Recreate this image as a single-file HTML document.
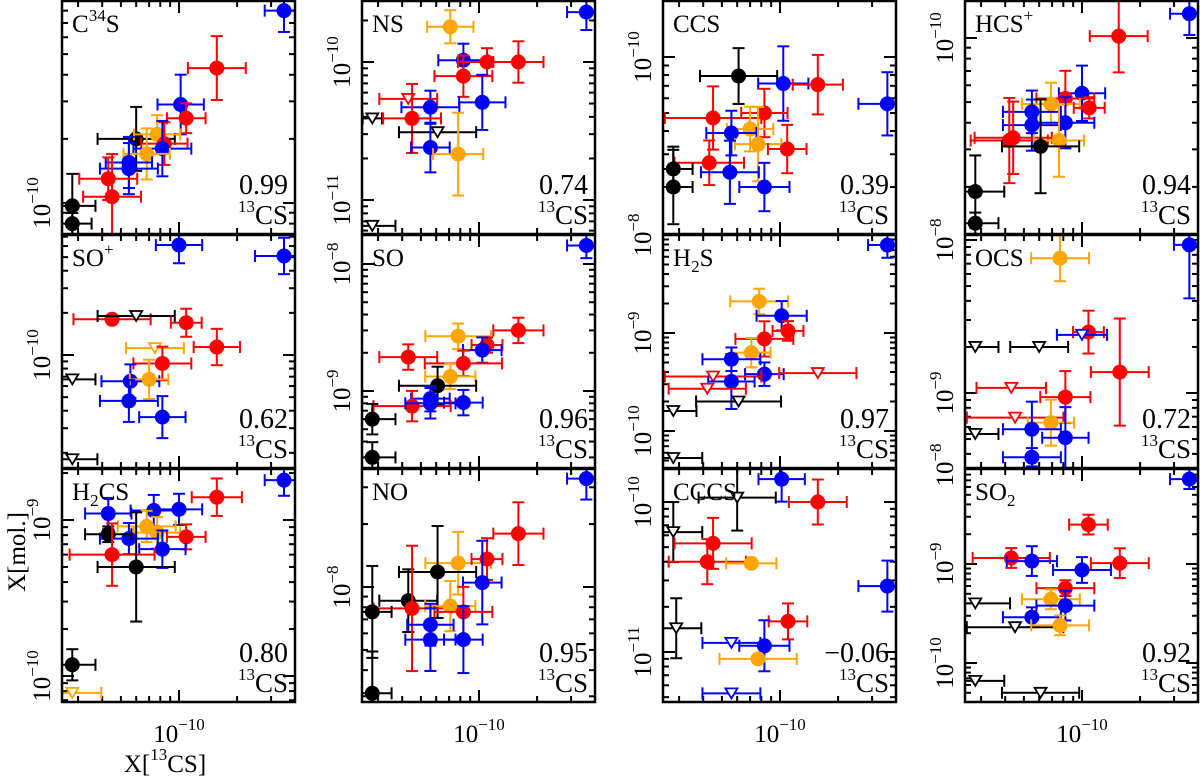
<!DOCTYPE html>
<html><head><meta charset="utf-8"><style>
html,body{margin:0;padding:0;background:#fff;}
svg{display:block;font-family:"Liberation Serif",serif;}
</style></head><body>
<svg id="chart" width="1200" height="778" viewBox="0 0 1200 778" xmlns="http://www.w3.org/2000/svg"></svg>
<script>
// ---- data (X = X[13CS], Y = X[mol.], C = kind, EX/EY = errors in dex) ----
const xC34S=[3.5e-10,1.57e-10,1.02e-10,1.09e-10,6.0e-11,7.7e-11,8.4e-11,8.2e-11,6.8e-11,5.5e-11,5.5e-11,4.3e-11,4.5e-11,2.8e-11,2.8e-11];
const yC34S=[8e-10,4.3e-10,2.9e-10,2.5e-10,2.0e-10,2.1e-10,1.9e-10,1.8e-10,1.7e-10,1.55e-10,1.45e-10,1.3e-10,1.07e-10,9.7e-11,8e-11];
const cC34S=['b','r','b','r','k','o','r','b','o','b','b','r','r','k','k'];
const exC34S=[.1,.15,.12,.1,.2,.12,.12,.15,.12,.12,.15,.15,.15,.12,.1];
const eyC34S=[.1,.15,.14,.07,.15,.09,.1,.13,.12,.12,.12,.1,.2,.15,.05];

const xNS=[3.6e-10,7.1e-11,8.3e-11,1.1e-10,1.6e-10,8.3e-11,1.04e-10,4.3e-11,5.6e-11,2.8e-11,4.5e-11,6.1e-11,5.6e-11,7.8e-11,2.8e-11];
const yNS=[2.3e-10,1.8e-10,1.03e-10,1e-10,1e-10,7.9e-11,5.1e-11,5.4e-11,4.7e-11,3.9e-11,3.9e-11,3.1e-11,2.4e-11,2.15e-11,6.5e-12];
const cNS=['b','o','b','r','r','r','b','rt','b','kt','r','kt','b','o','kt'];
const exNS=[.1,.12,.13,.15,.13,.15,.12,.15,.15,.05,.15,.2,.1,.13,.12];
const eyNS=[.13,.12,.12,.1,.15,.15,.2,0,.12,0,.25,0,.18,.3,0];

const xCCS=[6.1e-11,1.04e-10,1.57e-10,3.6e-10,4.5e-11,8.3e-11,7.0e-11,5.6e-11,7.7e-11,1.09e-10,4.3e-11,2.8e-11,5.5e-11,2.8e-11,8.3e-11];
const yCCS=[7.9e-11,7.2e-11,7.1e-11,5.6e-11,4.7e-11,5.0e-11,4.1e-11,3.9e-11,3.4e-11,3.2e-11,2.7e-11,2.5e-11,2.4e-11,2.0e-11,2.0e-11];
const cCCS=['k','b','r','b','r','r','o','b','o','r','r','k','b','k','b'];
const exCCS=[.2,.13,.13,.15,.25,.12,.12,.13,.12,.1,.18,.1,.15,.1,.13];
const eyCCS=[.15,.2,.16,.17,.17,.13,.12,.12,.2,.13,.12,.12,.17,.2,.13];

const xHCS=[3.6e-10,1.55e-10,1.0e-10,8.2e-11,6.9e-11,1.09e-10,5.5e-11,8.2e-11,5.5e-11,4.4e-11,4.2e-11,7.6e-11,6.1e-11,2.8e-11,2.8e-11];
const yHCS=[1.3e-10,1.02e-10,5.5e-11,5.2e-11,4.9e-11,4.7e-11,4.5e-11,4.0e-11,3.9e-11,3.4e-11,3.3e-11,3.3e-11,3.1e-11,1.9e-11,1.35e-11];
const cHCS=['b','r','b','r','o','r','b','b','b','r','r','o','k','k','k'];
const exHCS=[.1,.15,.12,.15,.15,.08,.15,.15,.15,.2,.2,.13,.2,.15,.12];
const eyHCS=[.1,.17,.13,.13,.1,.05,.1,.12,.12,.17,.2,.17,.22,.17,.05];

const xSOp=[1.0e-10,3.5e-10,4.5e-11,6.0e-11,1.09e-10,1.57e-10,7.5e-11,8.2e-11,2.8e-11,5.6e-11,7.0e-11,5.5e-11,8.2e-11,2.8e-11];
const ySOp=[6.1e-10,5.1e-10,1.8e-10,1.9e-10,1.7e-10,1.14e-10,1.12e-10,8.7e-11,6.7e-11,6.5e-11,6.7e-11,4.7e-11,3.6e-11,1.8e-11];
const cSOp=['b','b','r','kt','r','r','ot','r','kt','b','o','b','b','kt'];
const exSOp=[.12,.15,.2,.2,.08,.12,.15,.15,.12,.15,.1,.15,.12,.13];
const eySOp=[.13,.13,.01,0,.1,.13,0,.12,0,.12,.14,.15,.15,0];

const xSO=[3.6e-10,1.6e-10,7.8e-11,1.1e-10,1.04e-10,4.3e-11,8.3e-11,7.1e-11,6.1e-11,5.6e-11,8.3e-11,4.5e-11,5.6e-11,2.8e-11,2.8e-11];
const ySO=[1.4e-8,3.0e-9,2.7e-9,2.3e-9,2.1e-9,1.85e-9,1.65e-9,1.3e-9,1.1e-9,8.7e-10,8.1e-10,7.6e-10,8e-10,6.0e-10,3.0e-10];
const cSO=['b','r','o','r','b','r','r','o','k','b','b','r','b','k','k'];
const exSO=[.1,.13,.17,.08,.1,.15,.2,.13,.2,.1,.1,.2,.13,.12,.12];
const eySO=[.1,.1,.1,.06,.1,.1,.1,.1,.15,.1,.1,.12,.12,.12,.12];

const xH2S=[3.6e-10,7.8e-11,1.02e-10,1.1e-10,8.3e-11,7.1e-11,5.6e-11,8.3e-11,1.57e-10,4.5e-11,5.6e-11,4.2e-11,6.1e-11,2.8e-11,2.8e-11];
const yH2S=[7.9e-9,2.1e-9,1.5e-9,1.05e-9,8.7e-10,6.3e-10,5.4e-10,3.8e-10,3.9e-10,3.6e-10,3.2e-10,2.7e-10,2.0e-10,1.6e-10,5.3e-11];
const cH2S=['b','o','b','r','r','o','b','b','rt','rt','b','rt','kt','kt','kt'];
const exH2S=[.1,.15,.13,.08,.15,.1,.15,.1,.2,.25,.12,.2,.22,.12,.15];
const eyH2S=[.13,.13,.15,.1,.18,.15,.12,.12,0,0,.28,0,0,0,0];

const xOCS=[3.6e-10,7.7e-11,1.08e-10,1.0e-10,2.8e-11,6.0e-11,1.57e-10,4.3e-11,8.2e-11,4.5e-11,6.9e-11,5.5e-11,2.8e-11,8.2e-11,5.5e-11];
const yOCS=[9.3e-9,7.6e-9,2.5e-9,2.4e-9,2.0e-9,2.0e-9,1.37e-9,1.08e-9,9.4e-10,6.9e-10,6.4e-10,5.8e-10,5.4e-10,5.1e-10,3.8e-10];
const cOCS=['b','o','r','bt','kt','kt','r','rt','r','rt','o','b','kt','b','b'];
const exOCS=[.08,.15,.08,.13,.12,.15,.15,.18,.13,.25,.12,.15,.12,.12,.15];
const eyOCS=[.35,.15,.14,0,0,0,.35,0,.17,0,.15,.18,0,.2,.06];

const xH2CS=[3.5e-10,1.57e-10,1.0e-10,7.4e-11,4.3e-11,6.8e-11,7.7e-11,1.09e-10,5.5e-11,4.3e-11,8.2e-11,4.5e-11,6.0e-11,2.8e-11,2.8e-11];
const yH2CS=[1.8e-9,1.4e-9,1.17e-9,1.15e-9,1.1e-9,9.1e-10,8.3e-10,7.8e-10,7.6e-10,8.1e-10,6.5e-10,6.0e-10,5.0e-10,1.18e-10,7.8e-11];
const cH2CS=['b','r','b','b','b','o','o','r','b','k','b','r','k','k','ot'];
const exH2CS=[.1,.13,.12,.12,.12,.15,.12,.1,.15,.12,.12,.22,.2,.12,.15];
const eyH2CS=[.1,.12,.1,.1,.1,.1,.1,.08,.1,.05,.12,.2,.35,.1,0];

const xNO=[3.6e-10,1.6e-10,7.8e-11,1.1e-10,6.1e-11,1.04e-10,4.3e-11,4.5e-11,2.8e-11,7.1e-11,8.3e-11,5.6e-11,5.6e-11,8.3e-11,2.8e-11];
const yNO=[3.3e-8,1.8e-8,1.3e-8,1.36e-8,1.18e-8,1.05e-8,8.6e-9,7.9e-9,7.6e-9,8.1e-9,7.6e-9,6.6e-9,5.6e-9,5.6e-9,3.1e-9];
const cNO=['b','r','o','r','k','b','k','r','k','o','r','b','b','b','k'];
const exNO=[.1,.13,.17,.08,.2,.1,.15,.2,.1,.13,.15,.12,.13,.1,.1];
const eyNO=[.1,.15,.15,.1,.22,.2,.15,.3,.22,.12,.12,.1,.15,.16,.2];

const xCCCS=[1.02e-10,6e-11,1.57e-10,2.8e-11,4.5e-11,4.2e-11,7.1e-11,3.6e-10,1.1e-10,2.9e-11,5.6e-11,8.3e-11,7.7e-11,5.6e-11];
const yCCCS=[1.42e-10,1.07e-10,1.0e-10,6.3e-11,5.3e-11,4.0e-11,3.9e-11,2.75e-11,1.6e-11,1.44e-11,1.15e-11,1.1e-11,9e-12,5.3e-12];
const cCCCS=['b','kt','r','kt','r','r','o','b','r','kt','bt','b','o','bt'];
const exCCCS=[.12,.2,.15,.15,.2,.2,.13,.15,.1,.13,.15,.13,.2,.15];
const eyCCCS=[.15,.22,.15,.2,.17,.15,0,.17,.12,.2,0,.17,0,0];

const xSO2=[3.6e-10,1.08e-10,4.3e-11,5.5e-11,1.57e-10,1.0e-10,8.2e-11,6.9e-11,8.2e-11,2.8e-11,5.5e-11,4.5e-11,7.7e-11,2.8e-11,6.1e-11];
const ySO2=[7.2e-9,2.5e-9,1.15e-9,1.07e-9,1.02e-9,8.7e-10,5.7e-10,4.4e-10,3.8e-10,4.0e-10,2.9e-10,2.3e-10,2.4e-10,6.6e-11,5.0e-11];
const cSO2=['b','r','r','b','r','b','r','o','b','kt','b','kt','o','kt','kt'];
const exSO2=[.1,.1,.2,.13,.15,.15,.15,.15,.15,.18,.15,.25,.15,.15,.2];
const eySO2=[.1,.1,.1,.15,.15,.13,.08,.1,.15,0,.1,0,.1,0,0];

const corrValues=['0.99','0.74','0.39','0.94','0.62','0.96','0.97','0.72','0.80','0.95','\u22120.06','0.92'];
const xTickLabel='10';
const xTickExp='\u221210';

// ---- layout ----
const NS_='http://www.w3.org/2000/svg';
const svg=document.getElementById('chart');
const colL=[62,362,663,965], rowT=[1,235,469], PW=233, PH=233;
const XD=193, XREF=117;
const panels=[
 {name:'c34s',label:[['C'],['34','sup'],['S']],xs:xC34S,ys:yC34S,cs:cC34S,ex:exC34S,ey:eyC34S,yref:203,lref:-10,D:213},
 {name:'ns',label:[['NS']],xs:xNS,ys:yNS,cs:cNS,ex:exNS,ey:eyNS,yref:62,lref:-10,D:138},
 {name:'ccs',label:[['CCS']],xs:xCCS,ys:yCCS,cs:cCCS,ex:exCCS,ey:eyCCS,yref:57,lref:-10,D:186},
 {name:'hcs-plus',label:[['HCS'],['+','sup']],xs:xHCS,ys:yHCS,cs:cHCS,ex:exHCS,ey:eyHCS,yref:38,lref:-10,D:213},
 {name:'so-plus',label:[['SO'],['+','sup']],xs:xSOp,ys:ySOp,cs:cSOp,ex:exSOp,ey:eySOp,yref:355,lref:-10,D:140},
 {name:'so',label:[['SO']],xs:xSO,ys:ySO,cs:cSO,ex:exSO,ey:eySO,yref:391,lref:-9,D:127},
 {name:'h2s',label:[['H'],['2','sub'],['S']],xs:xH2S,ys:yH2S,cs:cH2S,ex:exH2S,ey:eyH2S,yref:333,lref:-9,D:98},
 {name:'ocs',label:[['OCS']],xs:xOCS,ys:yOCS,cs:cOCS,ex:exOCS,ey:eyOCS,yref:393,lref:-9,D:153},
 {name:'h2cs',label:[['H'],['2','sub'],['CS']],xs:xH2CS,ys:yH2CS,cs:cH2CS,ex:exH2CS,ey:eyH2CS,yref:520,lref:-9,D:156},
 {name:'no',label:[['NO']],xs:xNO,ys:yNO,cs:cNO,ex:exNO,ey:eyNO,yref:587,lref:-8,D:209},
 {name:'cccs',label:[['CCCS']],xs:xCCCS,ys:yCCCS,cs:cCCCS,ex:exCCCS,ey:eyCCCS,yref:502,lref:-10,D:150},
 {name:'so2',label:[['SO'],['2','sub']],xs:xSO2,ys:ySO2,cs:cSO2,ex:exSO2,ey:eySO2,yref:564,lref:-9,D:99}
];
const COL={r:'#ff0000',b:'#0000ff',o:'#ffa500',k:'#000000'};

function mk(tag,attrs,parent){const e=document.createElementNS(NS_,tag);for(const k in attrs)e.setAttribute(k,attrs[k]);(parent||svg).appendChild(e);return e;}
function line(g,x1,y1,x2,y2,stroke,w){return mk('line',{x1,y1,x2,y2,stroke,'stroke-width':w},g);}

const defs=mk('defs',{});
panels.forEach((p,i)=>{
  const L=colL[i%4], T=rowT[Math.floor(i/4)];
  const cp=mk('clipPath',{id:'clip'+i},defs); mk('rect',{x:L,y:T,width:PW,height:PH},cp);
  const xS=v=>L+XREF+(Math.log10(v)+10)*XD;
  const yS=v=>p.yref+(p.lref-Math.log10(v))*p.D;
  const g=mk('g',{});
  
  
  const tg=mk('g',{},g);
  
  
  for(let e=-12;e<=-9;e++)for(let m=1;m<=9;m++){
    const v=m*Math.pow(10,e), x=xS(v); if(x<L+1||x>L+PW-1)continue;
    const len=m===1?12:6;
    line(tg,x,T,x,T+len,'#000',2); line(tg,x,T+PH,x,T+PH-len,'#000',2);
  }
  const ymin=p.lref-(T+PH-p.yref)/p.D, ymax=p.lref+(p.yref-T)/p.D;
  for(let e=Math.floor(ymin)-1;e<=Math.ceil(ymax);e++)for(let m=1;m<=9;m++){
    const v=m*Math.pow(10,e), y=yS(v); if(y<T+1||y>T+PH-1)continue;
    const len=m===1?12:6;
    line(tg,L,y,L+len,y,'#000',2); line(tg,L+PW,y,L+PW-len,y,'#000',2);
  }
  for(let e=Math.floor(ymin)-1;e<=Math.ceil(ymax);e++){
    const y=yS(Math.pow(10,e)); if(y<T-6||y>T+PH+6)continue;
    const t=mk('text',{transform:`translate(${L-12},${y}) rotate(-90)`,'text-anchor':'middle','font-size':25},g);
    
    
    mk('tspan',{},t).textContent='10';
    const s=mk('tspan',{'font-size':17,dy:-12},t); s.textContent='\u2212'+(-e);
  }
  const mg=mk('g',{'clip-path':`url(#clip${i})`},g);
  p.xs.forEach((xv,j)=>{
    const kind=p.cs[j], col=COL[kind[0]], tri=kind.length>1;
    const x=xS(xv), y=yS(p.ys[j]);
    const pg=mk('g',{},mg);
    
    
    const ex=p.ex[j], ey=p.ey[j];
    if(ex>0){const x1=xS(xv/Math.pow(10,ex)),x2=xS(xv*Math.pow(10,ex));
      line(pg,x1,y,x2,y,col,2); line(pg,x1,y-6,x1,y+6,col,2); line(pg,x2,y-6,x2,y+6,col,2);}
    if(ey>0){const y1=yS(p.ys[j]*Math.pow(10,ey)),y2=yS(p.ys[j]/Math.pow(10,ey));
      line(pg,x,y1,x,y2,col,2); line(pg,x-6,y1,x+6,y1,col,2); line(pg,x-6,y2,x+6,y2,col,2);}
    if(tri){mk('polygon',{points:`${x-6},${y-5} ${x+6},${y-5} ${x},${y+5}`,fill:'#fff',stroke:col,'stroke-width':1.8},pg);}
    else mk('circle',{cx:x,cy:y,r:7.5,fill:col},pg);
  });
  const fr=mk('rect',{x:L,y:T,width:PW,height:PH,fill:'none',stroke:'#000','stroke-width':2.5},g);
  
  
  const lt=mk('text',{x:L+10,y:T+31,'font-size':25},g);
  
  
  let shift=0;
  p.label.forEach(([s,k])=>{const ts=mk('tspan',{},lt);
    let dy=0;
    if(k==='sup'){ts.setAttribute('font-size',17);dy=-11;}
    else if(k==='sub'){ts.setAttribute('font-size',17);dy=6;}
    ts.setAttribute('dy',dy-shift);shift=dy;ts.textContent=s;});
  const ct=mk('text',{x:L+226,y:T+193,'font-size':28,'text-anchor':'end'},g);
  
  
  ct.textContent=corrValues[i];
  const rt=mk('text',{x:L+226,y:T+223,'font-size':27,'text-anchor':'end'},g);
  
  
  const s1=mk('tspan',{'font-size':17,dy:-12},rt);s1.textContent='13';
  const s2=mk('tspan',{dy:12},rt);s2.textContent='CS';
  if(Math.floor(i/4)===2){
    const xt=mk('text',{x:L+XREF,y:742,'font-size':25,'text-anchor':'middle'});
    
    
    mk('tspan',{},xt).textContent=xTickLabel;
    const e2=mk('tspan',{'font-size':17,dy:-12},xt);e2.textContent=xTickExp;
  }
});
const xa=mk('text',{x:165,y:772,'font-size':25,'text-anchor':'middle'});


mk('tspan',{},xa).textContent='X[';
const xa2=mk('tspan',{'font-size':17,dy:-12},xa);xa2.textContent='13';
const xa3=mk('tspan',{dy:12},xa);xa3.textContent='CS]';
const ya=mk('text',{transform:'translate(25,552) rotate(-90)','font-size':25,'text-anchor':'middle'});


ya.textContent='X[mol.]';
</script>
</body></html>
